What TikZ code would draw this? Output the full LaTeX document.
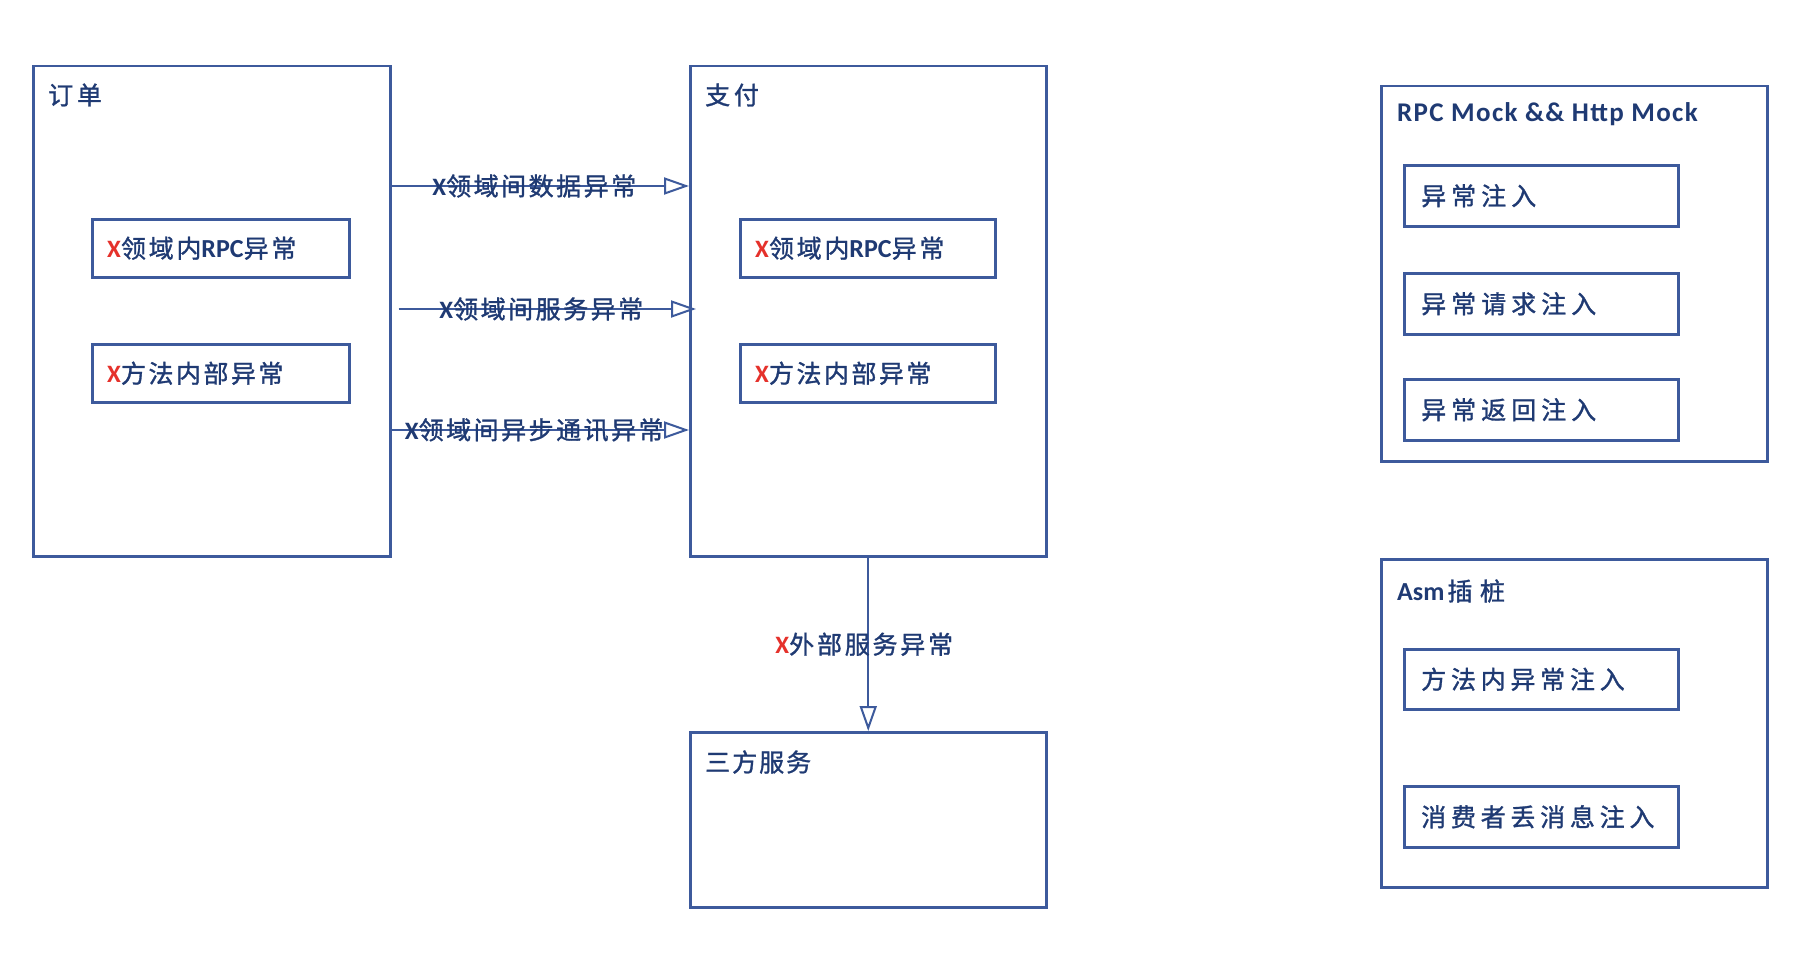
\documentclass[tikz,border=0pt]{standalone}
\usepackage{fontspec}
\setmainfont{Noto Sans CJK SC}[FakeBold=1.2]
\newfontfamily\latinfont{Carlito}
\usetikzlibrary{arrows.meta}
\definecolor{navy}{HTML}{1F3A73}
\definecolor{boxblue}{HTML}{3D5A9C}
\definecolor{xred}{HTML}{E5312B}
\newcommand\spaced[2]{{\addfontfeature{LetterSpace=#1}#2}}
\newcommand\redx{{\latinfont\bfseries\color{xred}X}}
\newcommand\navyx{{\latinfont\bfseries\color{navy}X}}
\newcommand\rpctxt{{\latinfont\bfseries\fontsize{26}{28}\selectfont RPC}}
\begin{document}
\begin{tikzpicture}[x=1pt,y=-1pt,
  bigbox/.style={draw=boxblue, line width=2.5pt, rectangle, anchor=north west, inner sep=0pt},
  subbox/.style={draw=boxblue, line width=2.5pt, rectangle, anchor=north west, inner sep=0pt},
  lbl/.style={text=navy, font=\fontsize{25}{29}\selectfont, inner sep=0pt},
  ttl/.style={lbl, font=\latinfont\bfseries\fontsize{27}{30}\selectfont},
  arr/.style={draw=boxblue, line width=2pt, -{Triangle[open,length=25pt,width=17pt]}},
]
\fill[white] (0,0) rectangle (1800,974);
\useasboundingbox (0,0) rectangle (1800,974);

% main boxes
\node[bigbox, minimum width=357pt, minimum height=490pt] (order) at (32,65) {};
\node[bigbox, minimum width=356pt, minimum height=490pt] (pay) at (689,65) {};
\node[bigbox, minimum width=356pt, minimum height=175pt] (third) at (689,731) {};
\node[bigbox, minimum width=386pt, minimum height=375pt] (rpcmock) at (1380,85) {};
\node[bigbox, minimum width=386pt, minimum height=328pt] (asm) at (1380,558) {};

% titles
\node[lbl, anchor=west] (ordert) at (48,95) {\spaced{15}{订单}};
\node[lbl, anchor=west] (payt) at (705,95) {\spaced{15}{支付}};
\node[lbl, anchor=west] (thirdt) at (705,762) {\spaced{8}{三方服务}};
\node[ttl, anchor=west] (rpct) at (1397,114) {\spaced{5}{RPC Mock \&\& Http Mock}};
\node[lbl, anchor=west] (asmt) at (1397,591) {{\latinfont\bfseries\fontsize{26}{28}\selectfont Asm}\hspace{3pt}\spaced{30}{插桩}};

% inner boxes
\node[subbox, minimum width=257pt, minimum height=58pt] (o1) at (91,218) {};
\node[subbox, minimum width=257pt, minimum height=58pt] (o2) at (91,343) {};
\node[subbox, minimum width=255pt, minimum height=58pt] (p1) at (739,218) {};
\node[subbox, minimum width=255pt, minimum height=58pt] (p2) at (739,343) {};
\node[subbox, minimum width=274pt, minimum height=61pt] (r1) at (1403,164) {};
\node[subbox, minimum width=274pt, minimum height=61pt] (r2) at (1403,272) {};
\node[subbox, minimum width=274pt, minimum height=61pt] (r3) at (1403,378) {};
\node[subbox, minimum width=274pt, minimum height=60pt] (s1) at (1403,648) {};
\node[subbox, minimum width=274pt, minimum height=61pt] (s2) at (1403,785) {};

\node[lbl, anchor=west] (o1t) at ([xshift=16pt]o1.west) {\redx\spaced{11}{领域内}\rpctxt\spaced{11}{异常}};
\node[lbl, anchor=west] (o2t) at ([xshift=16pt]o2.west) {\redx\spaced{10}{方法内部异常}};
\node[lbl, anchor=west] (p1t) at ([xshift=16pt]p1.west) {\redx\spaced{11}{领域内}\rpctxt\spaced{11}{异常}};
\node[lbl, anchor=west] (p2t) at ([xshift=16pt]p2.west) {\redx\spaced{10}{方法内部异常}};
\node[lbl, anchor=west] (r1t) at ([xshift=18pt]r1.west) {\spaced{20}{异常注入}};
\node[lbl, anchor=west] (r2t) at ([xshift=18pt]r2.west) {\spaced{20}{异常请求注入}};
\node[lbl, anchor=west] (r3t) at ([xshift=18pt]r3.west) {\spaced{20}{异常返回注入}};
\node[lbl, anchor=west] (s1t) at ([xshift=18pt]s1.west) {\spaced{19}{方法内异常注入}};
\node[lbl, anchor=west] (s2t) at ([xshift=18pt]s2.west) {\spaced{19}{消费者丢消息注入}};

% connectors
\draw[arr] (order.east |- 0,186) -- node[lbl, xshift=-6pt] (a1) {\navyx\spaced{10}{领域间数据异常}} (pay.west |- 0,186);
\draw[arr] ([xshift=7pt]order.east |- 0,309) -- node[lbl, xshift=-6pt] (a2) {\navyx\spaced{10}{领域间服务异常}} ([xshift=7pt]pay.west |- 0,309);
\draw[arr] (order.east |- 0,430) -- node[lbl, xshift=-6pt] (a3) {\navyx\spaced{10}{领域间异步通讯异常}} (pay.west |- 0,430);
\draw[arr] (pay.south) -- node[lbl, xshift=-4pt] (a4) {\redx\spaced{11}{外部服务异常}} (third.north);
\end{tikzpicture}
\end{document}
